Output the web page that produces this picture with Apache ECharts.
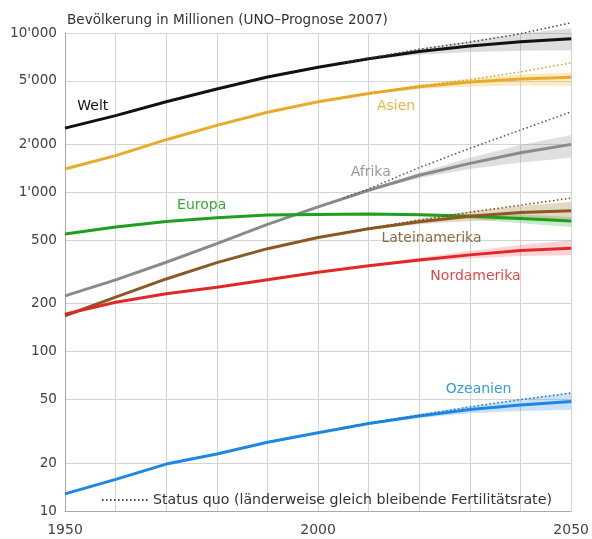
<!DOCTYPE html>
<html><head><meta charset="utf-8">
<script src="https://cdn.jsdelivr.net/npm/echarts@6/dist/echarts.min.js"></script>
<style>html,body{margin:0;padding:0;background:#fff}#c{width:592px;height:539px}</style>
</head><body><div id="c"></div>
<script>
// ---- data ----
const years = [1950, 1960, 1970, 1980, 1990, 2000, 2010, 2020, 2030, 2040, 2050];
const welt          = [2530, 3030, 3700, 4450, 5300, 6100, 6900, 7650, 8300, 8800, 9200];
const asien         = [1400, 1700, 2140, 2630, 3180, 3700, 4170, 4600, 4930, 5150, 5270];
const afrika        = [224, 282, 364, 476, 630, 811, 1030, 1280, 1520, 1770, 2000];
const europa        = [547, 605, 656, 693, 721, 727, 730, 723, 707, 686, 660];
const lateinamerika = [168, 220, 286, 362, 443, 521, 590, 654, 708, 746, 765];
const nordamerika   = [172, 204, 231, 254, 283, 315, 346, 376, 405, 431, 445];
const ozeanien      = [12.8, 15.8, 19.7, 22.8, 27.0, 31.0, 35.4, 39.5, 43.3, 46.3, 48.7];

// uncertainty bands (low / high variant)
const bandYears = [2005, 2010, 2020, 2030, 2040, 2050];
const weltLow  = [6500, 6830, 7300, 7600, 7750, 7790];
const weltHigh = [6500, 6980, 8000, 8950, 9900, 10700];
const asienLow  = [3940, 4120, 4450, 4620, 4680, 4650];
const asienHigh = [3940, 4220, 4750, 5200, 5480, 5650];
const afrikaLow  = [920, 1020, 1230, 1400, 1540, 1650];
const afrikaHigh = [920, 1040, 1330, 1650, 1980, 2290];
const europaLow  = [728, 727, 710, 680, 640, 605];
const europaHigh = [728, 733, 737, 735, 725, 700];
const lateinLow  = [557, 585, 630, 660, 675, 680];
const lateinHigh = [557, 595, 680, 760, 820, 870];
const nordLow  = [331, 343, 365, 385, 398, 403];
const nordHigh = [331, 349, 388, 428, 467, 500];
const ozeanLow  = [33.3, 35.0, 38.3, 41.0, 42.5, 43.2];
const ozeanHigh = [33.3, 35.8, 40.8, 45.5, 50.5, 55.5];

// status quo (constant fertility)
const sqYears = [2005, 2010, 2020, 2030, 2040, 2050];
const weltSQ   = [6500, 6960, 7900, 8750, 9900, 11600];
const asienSQ  = [3940, 4180, 4650, 5080, 5700, 6500];
const afrikaSQ = [920, 1050, 1430, 1890, 2460, 3200];
const lateinSQ = [557, 595, 670, 750, 830, 920];
const ozeanSQ  = [33.3, 35.6, 40.0, 45.0, 50.0, 55.0];

const yTicks = [10, 20, 50, 100, 200, 500, 1000, 2000, 5000, 10000];
const xLabelYears = [1950, 2000, 2050];
const SQ_NAME = 'Status quo (länderweise gleich bleibende Fertilitätsrate)';

// label anchors [year, value]
const labelAnchors = {
  Welt: [1955.5, 3480], Asien: [2015.4, 3480], Afrika: [2010.4, 1340], Europa: [1977, 830],
  Lateinamerika: [2022.4, 516], Nordamerika: [2031.1, 298], Ozeanien: [2031.7, 58]
};

const FONT = 'DejaVu Sans';
const pair = (xs, ys) => xs.map((x, i) => [x, ys[i]]);

function band(color, low, high) {
  return {
    type: 'custom', silent: true, z: 1,
    data: bandYears.map((y, i) => [y, low[i], high[i]]),
    encode: { x: 0, y: [1, 2] },
    renderItem: function (params, api) {
      if (params.dataIndex !== 0) return null;
      const top = bandYears.map((y, i) => api.coord([y, high[i]]));
      const bot = bandYears.map((y, i) => api.coord([y, low[i]])).reverse();
      return { type: 'polygon', shape: { points: top.concat(bot) }, style: { fill: color } };
    }
  };
}
function main(name, vals, color, labelColor) {
  return {
    name: name, type: 'line', data: pair(years, vals), showSymbol: false, z: 3, silent: true,
    lineStyle: { color: color, width: 3 }, itemStyle: { color: color },
    markPoint: {
      symbol: 'circle', symbolSize: 0, silent: true,
      data: [{ coord: labelAnchors[name] }],
      label: { show: true, position: 'inside', formatter: name, color: labelColor, fontSize: 14, fontFamily: FONT }
    }
  };
}
function sq(vals, color) {
  return {
    name: SQ_NAME, type: 'line', data: pair(sqYears, vals), symbol: 'none', showSymbol: false, z: 4, silent: true, clip: false,
    lineStyle: { color: color, width: 1.5, type: [1.5, 2.5] }, itemStyle: { color: color }
  };
}

const chart = echarts.init(document.getElementById('c'), null, { renderer: 'canvas' });
chart.setOption({
  animation: false,
  backgroundColor: '#fff',
  title: {
    text: 'Bevölkerung in Millionen (UNO–Prognose 2007)', left: 62, top: 8,
    textStyle: { fontSize: 13.6, fontWeight: 'normal', color: '#333', fontFamily: FONT }
  },
  legend: {
    data: [{ name: SQ_NAME, itemStyle: { opacity: 0 } }], left: 96, top: 488, itemWidth: 46, itemHeight: 12, itemGap: 4,
    textStyle: { fontSize: 14.2, color: '#333', fontFamily: FONT }, selectedMode: false
  },
  grid: { left: 65, right: 19, top: 33, bottom: 28 },
  xAxis: {
    type: 'value', min: 1950, max: 2050, interval: 10,
    axisLine: { show: true, lineStyle: { color: '#aaa' } },
    axisTick: { show: false },
    splitLine: { show: true, lineStyle: { color: '#d4d4d4', width: 1 } },
    axisLabel: {
      color: '#444', fontSize: 14, fontFamily: FONT, margin: 12,
      formatter: v => xLabelYears.indexOf(v) >= 0 ? String(v) : ''
    }
  },
  yAxis: {
    type: 'log', logBase: 10, min: 10, max: 10000,
    axisLine: { show: true, lineStyle: { color: '#aaa' } },
    axisTick: { show: false, customValues: yTicks },
    splitLine: { show: true, lineStyle: { color: '#d4d4d4', width: 1 } },
    axisLabel: {
      customValues: yTicks,
      color: '#444', fontSize: 13.6, fontFamily: FONT, margin: 8,
      formatter: v => String(Math.round(v)).replace(/\B(?=(\d{3})+(?!\d))/g, "'")
    }
  },
  series: [
    band('rgba(120,120,120,0.25)', weltLow, weltHigh),
    band('rgba(240,180,50,0.28)', asienLow, asienHigh),
    band('rgba(140,140,140,0.28)', afrikaLow, afrikaHigh),
    band('rgba(40,170,40,0.25)', europaLow, europaHigh),
    band('rgba(160,110,50,0.28)', lateinLow, lateinHigh),
    band('rgba(230,60,60,0.22)', nordLow, nordHigh),
    band('rgba(40,140,230,0.25)', ozeanLow, ozeanHigh),
    main('Welt', welt, '#111111', '#111111'),
    main('Asien', asien, '#e8ac2a', '#e9b64a'),
    main('Afrika', afrika, '#8a8a8a', '#999999'),
    main('Europa', europa, '#1f9e1f', '#3aab3a'),
    main('Lateinamerika', lateinamerika, '#8a5a22', '#8d6a42'),
    main('Nordamerika', nordamerika, '#e02828', '#e04848'),
    main('Ozeanien', ozeanien, '#1e88e0', '#3a9ae0'),
    sq(weltSQ, '#444444'),
    sq(asienSQ, '#d8a020'),
    sq(afrikaSQ, '#555555'),
    sq(lateinSQ, '#7a4a18'),
    sq(ozeanSQ, '#1e70c8')
  ]
});
</script>
</body></html>
